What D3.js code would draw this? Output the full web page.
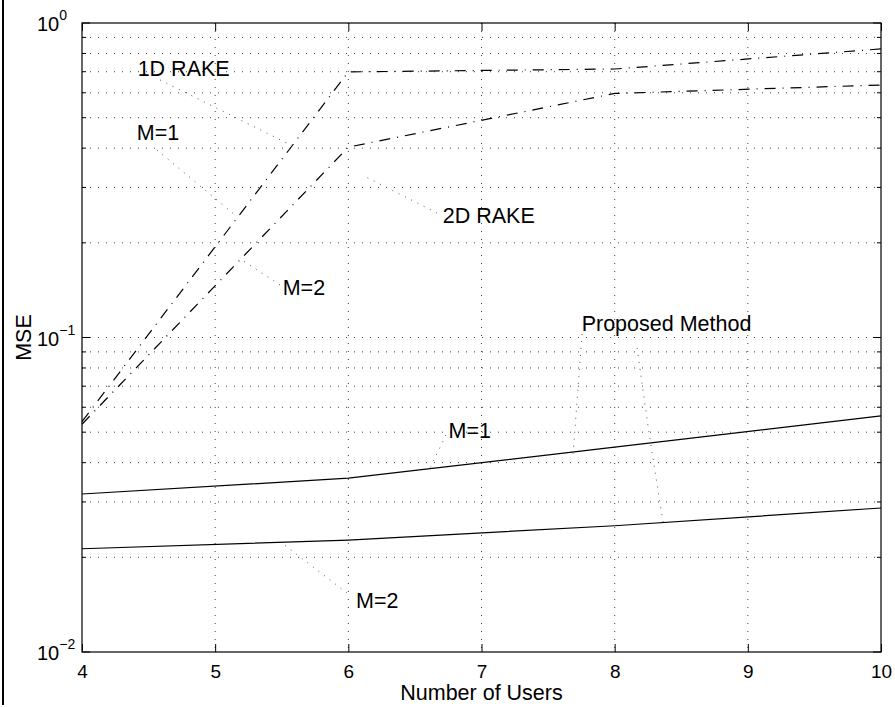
<!DOCTYPE html>
<html>
<head>
<meta charset="utf-8">
<script src="https://cdn.jsdelivr.net/npm/d3@7"></script>
<style>
body { margin: 0; background: #fff; }
text { font-family: "Liberation Sans", Arial, Helvetica, sans-serif; fill: #000; }
</style>
</head>
<body>
<svg id="chart" width="895" height="707"></svg>
<script>
// data
let users = [4, 6, 8, 10];
let rakeM1 = [0.054, 0.699, 0.714, 0.827];
let rakeM2 = [0.053, 0.403, 0.597, 0.635];
let propM1 = [0.0318, 0.0357, 0.0448, 0.0563];
let propM2 = [0.0213, 0.0227, 0.0252, 0.0287];

let xTicks = [4, 5, 6, 7, 8, 9, 10];
let yMajor = [0.01, 0.1, 1];
let yExp = ["\u22122", "\u22121", "0"];

// annotations: text anchor point + pointer segments, in data units
let noteText = ["1D RAKE", "M=1", "2D RAKE", "M=2", "Proposed Method", "M=1", "M=2"];
let noteX = [4.418, 4.411, 6.709, 5.507, 7.752, 6.752, 6.058];
let noteY = [0.678, 0.4246, 0.2312, 0.1365, 0.1049, 0.04791, 0.0138];
let pointers = [
  [[4.586, 0.659], [5.539, 0.415]],
  [[4.563, 0.3945], [5.149, 0.2452]],
  [[6.666, 0.2488], [6.103, 0.3286]],
  [[5.487, 0.1469], [5.201, 0.1764]],
  [[7.755, 0.1026], [7.687, 0.04229]],
  [[8.168, 0.0926], [8.258, 0.04969], [8.363, 0.02591]],
  [[6.733, 0.04898], [6.613, 0.03846]],
  [[5.990, 0.0154], [5.502, 0.0222]]
];

let mLeft = 82, mRight = 881, mTop = 23, mBottom = 652;

let svg = d3.select("#chart");

let x = d3.scaleLinear().domain([4, 10]).range([mLeft, mRight]);
let y = d3.scaleLog().domain([0.01, 1]).range([mBottom, mTop]);

// left frame edge of the page
svg.append("line")
  .attr("x1", 3).attr("x2", 3).attr("y1", 0).attr("y2", 705)
  .style("stroke", "#000").style("stroke-width", 2);

// all log ticks between the decades
let yMinor = [];
for (let d = 0.01; d < 1; d *= 10) {
  for (let k = 2; k <= 9; k++) yMinor.push(+(d * k).toPrecision(3));
}
let yGrid = yMinor.concat([0.1]);

let grid = svg.append("g");
grid.selectAll(".hg")
  .data(yGrid)
  .enter()
  .append("line")
  .attr("x1", mLeft).attr("x2", mRight)
  .attr("y1", d => y(d)).attr("y2", d => y(d))
  .style("stroke", "#444").style("stroke-width", 1)
  .style("stroke-dasharray", "1,7");
grid.selectAll(".vg")
  .data(xTicks.slice(1, -1))
  .enter()
  .append("line")
  .attr("x1", d => x(d)).attr("x2", d => x(d))
  .attr("y1", mTop).attr("y2", mBottom)
  .style("stroke", "#444").style("stroke-width", 1)
  .style("stroke-dasharray", "1,7");

// x axis bottom & top, ticks pointing in
let xAxis = svg.append("g")
  .attr("transform", `translate(0,${mBottom})`)
  .call(d3.axisBottom(x).tickValues(xTicks).tickSize(-8).tickPadding(13).tickFormat(d3.format("d")));
xAxis.select(".domain").remove();
xAxis.attr("font-family", null).attr("font-size", 19);

let xTopAxis = svg.append("g")
  .attr("transform", `translate(0,${mTop})`)
  .call(d3.axisTop(x).tickValues(xTicks).tickSize(-8).tickFormat(""));
xTopAxis.select(".domain").remove();

// y ticks on both sides
let yTicks = svg.append("g");
[mLeft, mRight].forEach(function(edge, i) {
  let dir = i == 0 ? 1 : -1;
  yTicks.selectAll(null)
    .data(yMajor)
    .enter()
    .append("line")
    .attr("x1", edge).attr("x2", edge + dir * 8)
    .attr("y1", d => y(d)).attr("y2", d => y(d))
    .style("stroke", "#000");
  yTicks.selectAll(null)
    .data(yMinor)
    .enter()
    .append("line")
    .attr("x1", edge).attr("x2", edge + dir * 4)
    .attr("y1", d => y(d)).attr("y2", d => y(d))
    .style("stroke", "#000");
});

// y labels 10^n
let yLab = svg.append("g").selectAll("text")
  .data(yMajor)
  .enter()
  .append("text")
  .attr("x", 37)
  .attr("y", d => y(d) + 8)
  .style("font-size", "20px");
yLab.append("tspan").text("10");
yLab.append("tspan")
  .attr("dy", -11)
  .style("font-size", "14px")
  .text((d, i) => yExp[i]);

// plot box
svg.append("rect")
  .attr("x", mLeft).attr("y", mTop)
  .attr("width", mRight - mLeft).attr("height", mBottom - mTop)
  .style("fill", "none").style("stroke", "#000").style("stroke-width", 1.2);

// series
let line = d3.line()
  .x((d, i) => x(users[i]))
  .y(d => y(d));

let series = [
  {vals: rakeM1, dash: "11,7,1,7"},
  {vals: rakeM2, dash: "11,7,1,7"},
  {vals: propM1, dash: null},
  {vals: propM2, dash: null}
];
svg.append("g").selectAll("path")
  .data(series)
  .enter()
  .append("path")
  .attr("d", d => line(d.vals))
  .style("fill", "none")
  .style("stroke", "#000")
  .style("stroke-width", 1.2)
  .style("stroke-dasharray", d => d.dash);

// annotation pointers
let pLine = d3.line().x(p => x(p[0])).y(p => y(p[1]));
svg.append("g").selectAll("path")
  .data(pointers)
  .enter()
  .append("path")
  .attr("d", d => pLine(d))
  .style("fill", "none")
  .style("stroke", "#555")
  .style("stroke-width", 1)
  .style("stroke-dasharray", "1,6");

svg.append("g").selectAll("text")
  .data(noteText)
  .enter()
  .append("text")
  .attr("x", (d, i) => x(noteX[i]))
  .attr("y", (d, i) => y(noteY[i]))
  .style("font-size", "21.5px")
  .text(d => d);

// axis titles
svg.append("text")
  .attr("x", (mLeft + mRight) / 2)
  .attr("y", 700)
  .style("text-anchor", "middle")
  .style("font-size", "21.5px")
  .text("Number of Users");

svg.append("text")
  .attr("transform", `translate(31,${(mTop + mBottom) / 2}) rotate(-90)`)
  .style("text-anchor", "middle")
  .style("font-size", "21.5px")
  .text("MSE");
</script>
</body>
</html>
